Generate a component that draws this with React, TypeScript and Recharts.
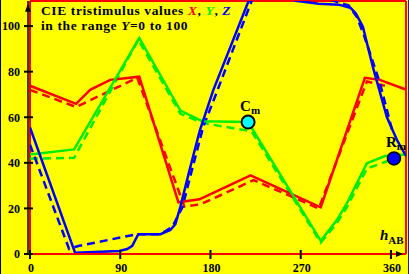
import React from "react";
import {
  LineChart,
  Line,
  XAxis,
  YAxis,
  ReferenceLine,
  ReferenceDot,
} from "recharts";

// hue angle h_AB (deg) and tristimulus value
const redSolidHue = [0, 46, 60, 70, 80, 109, 148, 169, 220, 290, 334, 349, 374];
const redSolidVal = [73.8, 65.9, 72, 74.2, 76.4, 77.8, 22.7, 24, 34.5, 20.5, 77.3, 76.4, 72.3];
const redDashHue = [0, 46, 107, 154, 170, 223, 288, 336, 354];
const redDashVal = [72, 64.5, 77.3, 20.8, 21.8, 32.4, 20, 75.7, 73.8];

const greenSolidHue = [0, 44, 109, 150, 172, 217.5, 290, 306, 316, 336, 354, 374];
const greenSolidVal = [43.7, 45.9, 94.8, 62.9, 58.2, 57.9, 5.8, 14.9, 22.2, 39.8, 43, 43.7];
const greenDashHue = [0, 44, 108, 150, 172, 221, 290, 306, 316, 336, 358];
const greenDashVal = [41.8, 42.2, 94, 61.5, 57.5, 53.8, 5, 13.5, 20.5, 37.5, 41];

const blueSolidHue = [0, 45, 89, 97, 102, 108, 130, 140, 145, 150, 158.8, 169.5, 182.8, 218, 226, 245, 265, 288, 308, 320, 325, 332, 342, 356, 366, 375];
const blueSolidVal = [55.5, 0.5, 1.3, 2.2, 3.6, 8.7, 8.7, 10.5, 13.1, 20.8, 36.3, 54.4, 71.9, 111, 116, 115.5, 111.1, 109.8, 109.4, 107.9, 105.5, 99.7, 82, 60, 50, 43];
const blueDashHue = [0, 39, 49, 107, 130, 142, 152, 161, 172.8, 184.5, 221, 230, 280, 300, 318, 326, 333, 340, 349, 362];
const blueDashVal = [48, 2.2, 3.6, 8.7, 8.7, 12, 20.5, 36, 55.8, 69, 111, 117, 112, 111.5, 109, 104, 96, 87, 75, 52.9];

const markerHue = [217.5, 363];
const markerVal = [57.9, 41.9];
const markerName = ["C", "R"];

const xTicks = [0, 90, 180, 270, 360];
const yTicks = [0, 20, 40, 60, 80, 100];

const RED = "#ff0000";
const GREEN = "#00ee00";
const BLUE = "#0000ff";
const FONT = "'Liberation Serif', 'Times New Roman', serif";

const pts = (hs: number[], vs: number[]) => hs.map((h, i) => ({ h, v: vs[i] }));

const XTick = (props: any) => {
  const { x, y, payload } = props;
  return (
    <g>
      <line x1={x} x2={x} y1={y - 4} y2={y + 5} stroke="#000" strokeWidth={2} />
      <text x={x + 1} y={y + 18} textAnchor="middle" fontFamily={FONT} fontWeight="bold" fontSize={12} fill="#000">
        {payload.value}
      </text>
    </g>
  );
};

const YTick = (props: any) => {
  const { x, y, payload } = props;
  return (
    <g>
      <line x1={x - 6} x2={x + 3} y1={y} y2={y} stroke="#000" strokeWidth={2} />
      <text x={x - 10} y={y + 4.3} textAnchor="end" fontFamily={FONT} fontWeight="bold" fontSize={12} fill="#000">
        {payload.value}
      </text>
    </g>
  );
};

const UpArrow = (props: any) => (
  <polygon points={`${props.cx},${props.cy - 3} ${props.cx - 3},${props.cy + 5} ${props.cx + 3},${props.cy + 5}`} fill="#000" />
);
const RightArrow = (props: any) => (
  <polygon points={`${props.cx + 2},${props.cy} ${props.cx - 5},${props.cy - 3} ${props.cx - 5},${props.cy + 3}`} fill="#000" />
);

const markerLabel = (main: string) => (p: any) => {
  const vb = p.viewBox;
  const cx = vb.x + vb.width / 2;
  const cy = vb.y + vb.height / 2;
  return (
    <text x={cx - 8} y={cy - 11} fontFamily={FONT} fontWeight="bold" fontSize={15} fill="#000">
      {main}
      <tspan fontSize={11} dy={3}>m</tspan>
    </text>
  );
};

export default function App() {
  return (
    <div style={{ position: "absolute", left: 0, top: 0, width: 409, height: 274, background: "#ffff00", overflow: "hidden" }}>
      <LineChart width={409} height={274} margin={{ top: 1, right: 3, bottom: 0, left: 0 }}>
        <XAxis
          type="number"
          dataKey="h"
          domain={[0, 375]}
          ticks={xTicks}
          allowDataOverflow
          height={20}
          tickSize={0}
          tickMargin={0}
          axisLine={{ stroke: RED, strokeWidth: 2 }}
          tickLine={false}
          tick={<XTick />}
        />
        <YAxis
          type="number"
          domain={[0, 111]}
          ticks={yTicks}
          allowDataOverflow
          width={30}
          tickSize={0}
          tickMargin={0}
          axisLine={false}
          tickLine={false}
          tick={<YTick />}
        />
        <ReferenceLine x={-2} ifOverflow="visible" stroke="#000" strokeWidth={1.5} />
        <ReferenceLine x={0} stroke={RED} strokeWidth={2} />
        <ReferenceLine x={375} stroke={RED} strokeWidth={2} />
        <ReferenceLine y={111} stroke={RED} strokeWidth={2} />

        <Line data={pts(redDashHue, redDashVal)} dataKey="v" type="linear" stroke={RED} strokeWidth={2.5} strokeDasharray="8 5" dot={false} isAnimationActive={false} />
        <Line data={pts(greenDashHue, greenDashVal)} dataKey="v" type="linear" stroke={GREEN} strokeWidth={2.5} strokeDasharray="8 5" dot={false} isAnimationActive={false} />
        <Line data={pts(blueDashHue, blueDashVal)} dataKey="v" type="linear" stroke={BLUE} strokeWidth={2.5} strokeDasharray="8 5" dot={false} isAnimationActive={false} />
        <Line data={pts(redSolidHue, redSolidVal)} dataKey="v" type="linear" stroke={RED} strokeWidth={2.5} dot={false} isAnimationActive={false} />
        <Line data={pts(greenSolidHue, greenSolidVal)} dataKey="v" type="linear" stroke={GREEN} strokeWidth={2.5} dot={false} isAnimationActive={false} />
        <Line data={pts(blueSolidHue, blueSolidVal)} dataKey="v" type="linear" stroke={BLUE} strokeWidth={2.5} dot={false} isAnimationActive={false} />

        <ReferenceDot x={markerHue[0]} y={markerVal[0]} r={6.5} fill="#00ffff" stroke="#000" strokeWidth={2} label={markerLabel(markerName[0])} />
        <ReferenceDot x={markerHue[1]} y={markerVal[1]} r={6.5} fill={BLUE} stroke="#000" strokeWidth={1.5} label={markerLabel(markerName[1])} />
        <ReferenceDot x={-2} y={108.5} ifOverflow="visible" r={3} shape={<UpArrow />} />
        <ReferenceDot x={370} y={0} ifOverflow="visible" r={3} shape={<RightArrow />} />
      </LineChart>

      <svg width={409} height={274} style={{ position: "absolute", left: 0, top: 0, pointerEvents: "none" }}>
        <g fontFamily={FONT} fontWeight="bold" fontSize={13.5} fill="#000" letterSpacing={0.6}>
          <text x={41} y={15}>
            {"CIE tristimulus values "}
            <tspan fill={RED} fontStyle="italic">X</tspan>
            {", "}
            <tspan fill={GREEN} fontStyle="italic">Y</tspan>
            {", "}
            <tspan fill={BLUE} fontStyle="italic">Z</tspan>
          </text>
          <text x={41} y={30}>
            {"in the range "}
            <tspan fontStyle="italic">Y</tspan>
            {"=0 to 100"}
          </text>
        </g>
        <text x={380} y={240} fontFamily={FONT} fontWeight="bold" fill="#000" fontSize={15} fontStyle="italic">
          h<tspan fontSize={11} fontStyle="normal" dy={4}>AB</tspan>
        </text>
      </svg>
      <div style={{ position: "absolute", left: 0, top: 0, width: 1, height: 274, background: "#000" }} />
      <div style={{ position: "absolute", left: 408, top: 0, width: 1, height: 274, background: "#2020a0" }} />
    </div>
  );
}
